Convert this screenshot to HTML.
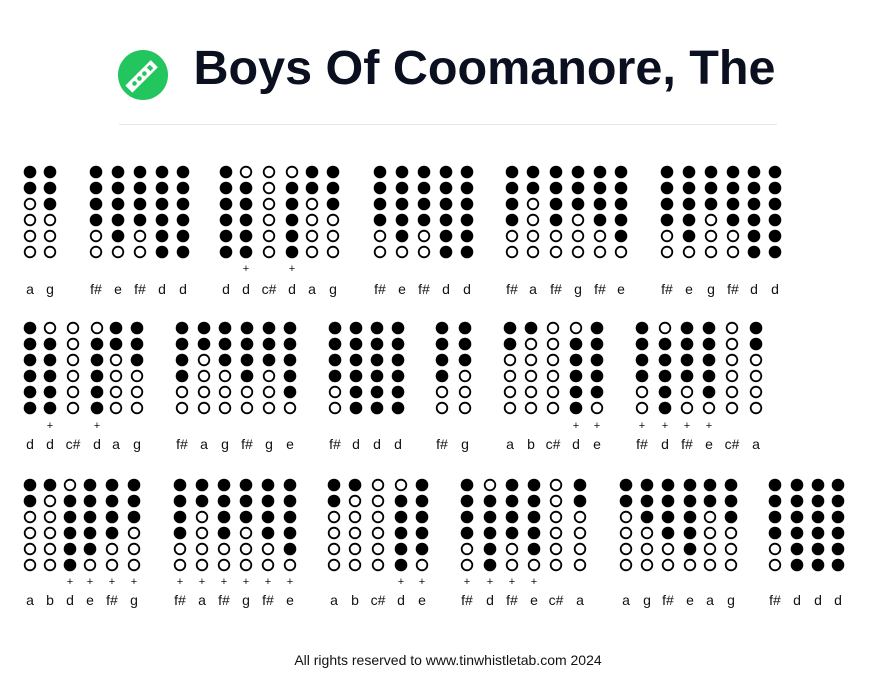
<!DOCTYPE html>
<html><head><meta charset="utf-8"><style>
html,body{margin:0;padding:0;background:#fff;}
body{width:896px;height:693px;position:relative;overflow:hidden;font-family:"Liberation Sans",sans-serif;}
svg{position:absolute;left:0;top:0;}
.l{font-size:14px;fill:#111;text-anchor:middle;font-family:"Liberation Sans",sans-serif;}
.p{font-size:11px;fill:#111;text-anchor:middle;font-family:"Liberation Sans",sans-serif;}
</style></head><body>
<svg id="s" width="896" height="693" viewBox="0 0 896 693">
<circle cx="143" cy="75" r="25" fill="#22c55e"/>
<g transform="translate(143,75) rotate(-45)">
<rect x="-20" y="-5" width="36" height="10" fill="#fff"/>
<circle cx="-12" cy="0" r="2.3" fill="#22c55e"/><circle cx="-5" cy="0" r="2.3" fill="#22c55e"/><circle cx="2" cy="0" r="2.3" fill="#22c55e"/>
<rect x="8" y="-2.5" width="4" height="5" fill="#22c55e"/>
</g>
<text x="484.5" y="84" text-anchor="middle" font-size="48.5" font-weight="bold" fill="#0b1020" font-family="Liberation Sans, sans-serif">Boys Of Coomanore, The</text>
<line x1="119" y1="124.5" x2="777" y2="124.5" stroke="#e5e7eb" stroke-width="1"/>
<g id="h"></g>
<g>
<text class="l" x="30" y="294">a</text><text class="l" x="50" y="294">g</text>
<text class="l" x="96" y="294">f#</text><text class="l" x="118" y="294">e</text><text class="l" x="140" y="294">f#</text><text class="l" x="162" y="294">d</text><text class="l" x="183" y="294">d</text>
<text class="l" x="226" y="294">d</text><text class="l" x="246" y="294">d</text><text class="l" x="269" y="294">c#</text><text class="l" x="292" y="294">d</text><text class="l" x="312" y="294">a</text><text class="l" x="333" y="294">g</text>
<text class="l" x="380" y="294">f#</text><text class="l" x="402" y="294">e</text><text class="l" x="424" y="294">f#</text><text class="l" x="446" y="294">d</text><text class="l" x="467" y="294">d</text>
<text class="l" x="512" y="294">f#</text><text class="l" x="533" y="294">a</text><text class="l" x="556" y="294">f#</text><text class="l" x="578" y="294">g</text><text class="l" x="600" y="294">f#</text><text class="l" x="621" y="294">e</text>
<text class="l" x="667" y="294">f#</text><text class="l" x="689" y="294">e</text><text class="l" x="711" y="294">g</text><text class="l" x="733" y="294">f#</text><text class="l" x="754" y="294">d</text><text class="l" x="775" y="294">d</text>

<text class="l" x="30" y="449">d</text><text class="l" x="50" y="449">d</text><text class="l" x="73" y="449">c#</text><text class="l" x="97" y="449">d</text><text class="l" x="116" y="449">a</text><text class="l" x="137" y="449">g</text>
<text class="l" x="182" y="449">f#</text><text class="l" x="204" y="449">a</text><text class="l" x="225" y="449">g</text><text class="l" x="247" y="449">f#</text><text class="l" x="269" y="449">g</text><text class="l" x="290" y="449">e</text>
<text class="l" x="335" y="449">f#</text><text class="l" x="356" y="449">d</text><text class="l" x="377" y="449">d</text><text class="l" x="398" y="449">d</text>
<text class="l" x="442" y="449">f#</text><text class="l" x="465" y="449">g</text>
<text class="l" x="510" y="449">a</text><text class="l" x="531" y="449">b</text><text class="l" x="553" y="449">c#</text><text class="l" x="576" y="449">d</text><text class="l" x="597" y="449">e</text>
<text class="l" x="642" y="449">f#</text><text class="l" x="665" y="449">d</text><text class="l" x="687" y="449">f#</text><text class="l" x="709" y="449">e</text><text class="l" x="732" y="449">c#</text><text class="l" x="756" y="449">a</text>

<text class="l" x="30" y="605">a</text><text class="l" x="50" y="605">b</text><text class="l" x="70" y="605">d</text><text class="l" x="90" y="605">e</text><text class="l" x="112" y="605">f#</text><text class="l" x="134" y="605">g</text>
<text class="l" x="180" y="605">f#</text><text class="l" x="202" y="605">a</text><text class="l" x="224" y="605">f#</text><text class="l" x="246" y="605">g</text><text class="l" x="268" y="605">f#</text><text class="l" x="290" y="605">e</text>
<text class="l" x="334" y="605">a</text><text class="l" x="355" y="605">b</text><text class="l" x="378" y="605">c#</text><text class="l" x="401" y="605">d</text><text class="l" x="422" y="605">e</text>
<text class="l" x="467" y="605">f#</text><text class="l" x="490" y="605">d</text><text class="l" x="512" y="605">f#</text><text class="l" x="534" y="605">e</text><text class="l" x="556" y="605">c#</text><text class="l" x="580" y="605">a</text>
<text class="l" x="626" y="605">a</text><text class="l" x="647" y="605">g</text><text class="l" x="668" y="605">f#</text><text class="l" x="690" y="605">e</text><text class="l" x="710" y="605">a</text><text class="l" x="731" y="605">g</text>
<text class="l" x="775" y="605">f#</text><text class="l" x="797" y="605">d</text><text class="l" x="818" y="605">d</text><text class="l" x="838" y="605">d</text>
</g>
<g>
<text class="p" x="246" y="272">+</text><text class="p" x="292" y="272">+</text>
<text class="p" x="50" y="429">+</text><text class="p" x="97" y="429">+</text>
<text class="p" x="576" y="429">+</text><text class="p" x="597" y="429">+</text>
<text class="p" x="642" y="429">+</text><text class="p" x="665" y="429">+</text><text class="p" x="687" y="429">+</text><text class="p" x="709" y="429">+</text>
<text class="p" x="70" y="585">+</text><text class="p" x="90" y="585">+</text><text class="p" x="112" y="585">+</text><text class="p" x="134" y="585">+</text>
<text class="p" x="180" y="585">+</text><text class="p" x="202" y="585">+</text><text class="p" x="224" y="585">+</text><text class="p" x="246" y="585">+</text><text class="p" x="268" y="585">+</text><text class="p" x="290" y="585">+</text>
<text class="p" x="401" y="585">+</text><text class="p" x="422" y="585">+</text>
<text class="p" x="467" y="585">+</text><text class="p" x="490" y="585">+</text><text class="p" x="512" y="585">+</text><text class="p" x="534" y="585">+</text>
</g>
<text x="448" y="665" text-anchor="middle" font-size="14" fill="#111" font-family="Liberation Sans, sans-serif">All rights reserved to www.tinwhistletab.com 2024</text>
</svg>
<script>
var F={d:6,e:5,'f#':4,g:3,a:2,b:1,'c#':0,D:-1};
var rows=[
[172,[[30,'a'],[50,'g'],[96,'f#'],[118,'e'],[140,'f#'],[162,'d'],[183,'d'],[226,'d'],[246,'D'],[269,'c#'],[292,'D'],[312,'a'],[333,'g'],[380,'f#'],[402,'e'],[424,'f#'],[446,'d'],[467,'d'],[512,'f#'],[533,'a'],[556,'f#'],[578,'g'],[600,'f#'],[621,'e'],[667,'f#'],[689,'e'],[711,'g'],[733,'f#'],[754,'d'],[775,'d']]],
[328,[[30,'d'],[50,'D'],[73,'c#'],[97,'D'],[116,'a'],[137,'g'],[182,'f#'],[204,'a'],[225,'g'],[247,'f#'],[269,'g'],[290,'e'],[335,'f#'],[356,'d'],[377,'d'],[398,'d'],[442,'f#'],[465,'g'],[510,'a'],[531,'b'],[553,'c#'],[576,'D'],[597,'e'],[642,'f#'],[665,'D'],[687,'f#'],[709,'e'],[732,'c#'],[756,'a']]],
[485,[[30,'a'],[50,'b'],[70,'D'],[90,'e'],[112,'f#'],[134,'g'],[180,'f#'],[202,'a'],[224,'f#'],[246,'g'],[268,'f#'],[290,'e'],[334,'a'],[355,'b'],[378,'c#'],[401,'D'],[422,'e'],[467,'f#'],[490,'D'],[512,'f#'],[534,'e'],[556,'c#'],[580,'a'],[626,'a'],[647,'g'],[668,'f#'],[690,'e'],[710,'a'],[731,'g'],[775,'f#'],[797,'d'],[818,'d'],[838,'d']]]];
var s='';
rows.forEach(function(r){r[1].forEach(function(c){var n=F[c[1]];for(var i=0;i<6;i++){var y=r[0]+i*16;var closed=n<0?(i>0):(i<n);
s+=closed?'<circle cx="'+c[0]+'" cy="'+y+'" r="6.3" fill="#000"/>':'<circle cx="'+c[0]+'" cy="'+y+'" r="5.3" fill="#fff" stroke="#000" stroke-width="1.8"/>';}});});
document.getElementById('h').innerHTML=s;
</script>
</body></html>
